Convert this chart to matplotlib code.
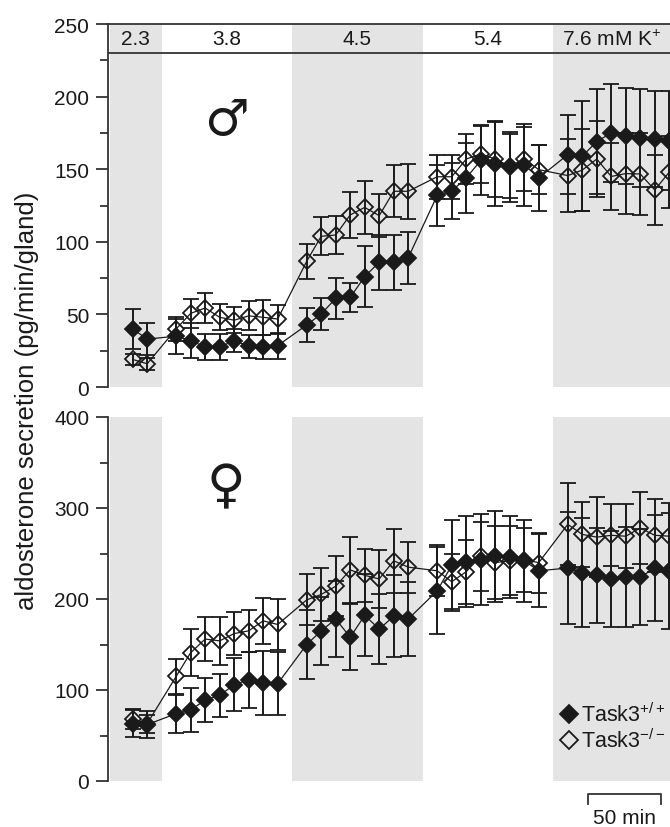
import numpy as np
import matplotlib
matplotlib.use('Agg')
import matplotlib.pyplot as plt
import matplotlib.transforms as mtransforms
from matplotlib.lines import Line2D
from matplotlib.ticker import MultipleLocator

plt.rcParams['font.family'] = ['Liberation Sans', 'DejaVu Sans']
plt.rcParams['mathtext.fontset'] = 'custom'
plt.rcParams['mathtext.rm'] = 'Liberation Sans'
plt.rcParams['mathtext.default'] = 'regular'

# time of each sample (min); 10 min fractions, one empty slot between K+ steps
time_min = [10, 20,
            40, 50, 60, 70, 80, 90, 100, 110,
            130, 140, 150, 160, 170, 180, 190, 200,
            220, 230, 240, 250, 260, 270, 280, 290,
            310, 320, 330, 340, 350, 360, 370, 380]

# K+ steps
phase_labels = ['2.3', '3.8', '4.5', '5.4', '7.6 mM K$^{+}$']
phase_edges = [-5.5, 30, 120, 210, 300, 390]
phase_shaded = [True, False, True, False, True]

# male
male_wt = [40, 33,
           35, 32, 27.5, 27.5, 32, 28, 27.5, 28.5,
           42.7, 50.3, 61, 61.7, 76, 86, 86, 89,
           132, 135, 144, 156, 153.6, 151.3, 153, 144,
           160, 159, 169, 175, 173, 171.5, 171, 169.6]
male_wt_err = [14, 11,
               12, 12, 9, 9, 8, 8, 8, 9,
               12, 11, 14, 10, 21, 19, 19, 18,
               21, 19, 24, 24, 29, 24, 28, 23,
               27, 38, 36, 34, 33, 34, 33, 34]
male_ko = [19, 16,
           40, 50.7, 54.4, 48, 46, 49, 48, 46.8,
           86.6, 103.8, 104.7, 118.5, 123.7, 118, 134.8, 134.8,
           144.8, 144.8, 157, 160.5, 157, 152, 157, 149.7,
           145.6, 149.4, 157, 145, 147, 146.7, 135.7, 148]
male_ko_err = [4, 4,
               8, 10, 10, 9, 9, 10, 12, 10,
               12, 13, 13, 16, 18, 15, 18, 19,
               15, 15, 17, 20, 26, 22, 22, 17,
               25, 28, 26, 23, 28, 28, 24, 25]

# female
female_wt = [63, 62,
             74, 78, 89, 94, 106, 111, 108, 107,
             150, 165, 178, 158, 182, 167, 181, 178,
             209, 237, 241, 243, 247, 246, 242, 231,
             234, 229, 226, 222, 224, 224, 234, 231]
female_wt_err = [15, 15,
                 21, 24, 24, 24, 29, 31, 35, 35,
                 38, 37, 42, 36, 45, 38, 45, 41,
                 48, 50, 50, 50, 50, 45, 45, 40,
                 62, 60, 52, 53, 55, 53, 58, 64]
female_ko = [68, 63,
             115, 141, 156, 154, 162, 165, 176, 172,
             199, 205, 214, 232, 226, 222, 242, 235,
             231, 219, 230, 247, 240, 242, 243, 240,
             282, 271, 268, 270, 269, 278, 270, 269]
female_ko_err = [11, 10,
                 19, 26, 24, 26, 24, 23, 25, 28,
                 28, 29, 33, 36, 29, 32, 35, 28,
                 28, 30, 35, 38, 40, 38, 35, 33,
                 45, 36, 44, 34, 35, 40, 40, 36]

legend_labels = ['Task3$^{+/+}$', 'Task3$^{-/-}$']
scalebar_min = 50

shade = '#e4e4e4'
ink = '#1a1a1a'
axc = '#333333'
xlim = (-7, 380.5)
fs = 15


def draw_panel(ax, wt, wt_err, ko, ko_err, ymax, major, minor):
    for i in range(len(phase_labels)):
        if phase_shaded[i]:
            ax.axvspan(phase_edges[i], phase_edges[i + 1], color=shade, lw=0, zorder=0)
    ax.errorbar(time_min, ko, yerr=ko_err, fmt='-D', color=ink, mfc='none', mec=ink,
                ms=7.8, mew=1.3, lw=0.9, elinewidth=1.4, capsize=6, capthick=1.4, zorder=3)
    ax.errorbar(time_min, wt, yerr=wt_err, fmt='-D', color=ink, mfc=ink, mec=ink,
                ms=7.8, mew=1.3, lw=0.9, elinewidth=1.4, capsize=6, capthick=1.4, zorder=4)
    ax.set_xlim(*xlim)
    ax.set_ylim(0, ymax)
    ax.yaxis.set_major_locator(MultipleLocator(major))
    ax.yaxis.set_minor_locator(MultipleLocator(minor))
    ax.set_xticks([])
    for s in ['right', 'bottom', 'top']:
        ax.spines[s].set_visible(False)
    ax.spines['left'].set_color(axc)
    ax.spines['left'].set_linewidth(1.3)
    ax.tick_params(axis='y', which='major', length=8.5, width=1.3, color=axc,
                   labelsize=fs, pad=5, labelcolor=ink)
    ax.tick_params(axis='y', which='minor', length=6, width=1.3, color=axc)
    ax.patch.set_alpha(0)


fig = plt.figure(figsize=(6.7, 8.28), dpi=100)
ax1 = fig.add_axes([108 / 670, 1 - 388 / 828, 562 / 670, 363 / 828])
ax2 = fig.add_axes([108 / 670, 1 - 782 / 828, 562 / 670, 364 / 828])

draw_panel(ax1, male_wt, male_wt_err, male_ko, male_ko_err, 250, 50, 25)
draw_panel(ax2, female_wt, female_wt_err, female_ko, female_ko_err, 400, 100, 50)

# header band with K+ concentrations
ax1.spines['top'].set_visible(True)
ax1.spines['top'].set_color(axc)
ax1.spines['top'].set_linewidth(1.3)
ax1.axhline(230, color=axc, lw=1.3, zorder=2)
for i, lab in enumerate(phase_labels):
    lo = max(phase_edges[i], xlim[0])
    hi = min(phase_edges[i + 1], xlim[1])
    ax1.text((lo + hi) / 2, 240, lab, ha='center', va='center', fontsize=fs, color=ink)

# sex symbols
ax1.text(0.21, 0.735, '\u2642', transform=ax1.transAxes, ha='center', va='center',
         fontsize=36, color=ink, family=['DejaVu Sans'])
ax2.text(0.21, 0.81, '\u2640', transform=ax2.transAxes, ha='center', va='center',
         fontsize=38, color=ink, family=['DejaVu Sans'])

fig.text(0.04, 1 - 401 / 828, 'aldosterone secretion (pg/min/gland)', rotation=90,
         ha='center', va='center', fontsize=18.5, color=ink)

# legend
handles = [Line2D([], [], ls='none', marker='D', ms=9.5, mfc=ink, mec=ink, mew=1.3),
           Line2D([], [], ls='none', marker='D', ms=9.5, mfc='none', mec=ink, mew=1.3)]
ax2.legend(handles, legend_labels, loc='upper left', bbox_to_anchor=(0.806, 0.215),
           frameon=False, handlelength=0.75, handletextpad=0.2, labelspacing=0.1,
           borderaxespad=0, borderpad=0, fontsize=fs + 0.5, labelcolor=ink)

# scale bar
trans = mtransforms.blended_transform_factory(ax2.transData, ax2.transAxes)
x0 = 324
ax2.plot([x0, x0, x0 + scalebar_min, x0 + scalebar_min], [-0.063, -0.036, -0.036, -0.063],
         color=axc, lw=1.3, transform=trans, clip_on=False)
ax2.text(x0 + scalebar_min / 2, -0.074, '%d min' % scalebar_min, transform=trans,
         ha='center', va='top', fontsize=fs, color=ink)

fig.savefig('out.png', dpi=100)
